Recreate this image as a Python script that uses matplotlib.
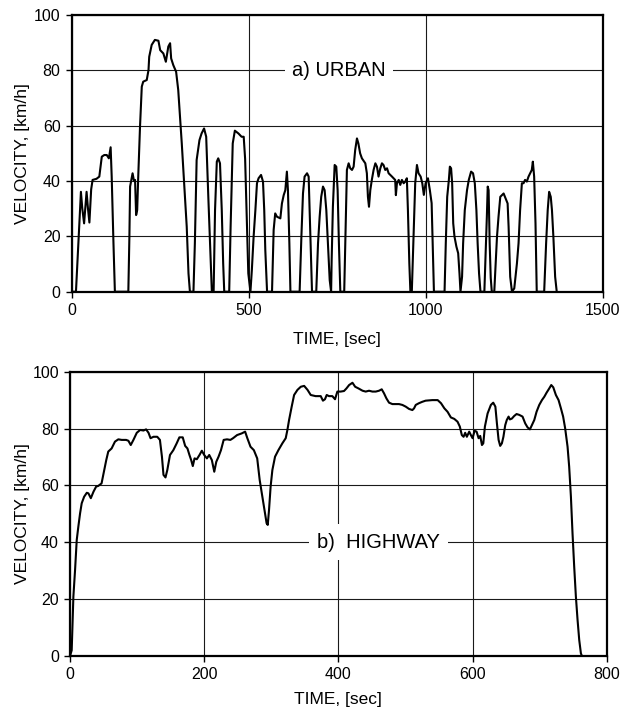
import numpy as np
import matplotlib
matplotlib.use('Agg')
import matplotlib.pyplot as plt

plt.rcParams['font.family'] = ['Liberation Sans', 'DejaVu Sans']

# 城市工况 (urban) 速度曲线
urban_time = [0, 12, 19, 23.5, 26, 30, 35, 42, 46, 50, 55, 59, 70, 78, 85, 92, 99, 105, 110, 113, 118, 122,
              160, 163, 165, 172, 176, 179, 182, 185, 188, 193, 198, 202, 212, 217, 219, 226, 235, 245, 250,
              259, 266, 273, 278, 281, 287, 295, 301, 311, 320, 325, 330, 334,
              344, 348, 353, 361, 367, 374, 380, 386, 391, 396,
              401, 405, 410, 414, 419, 424, 428, 431,
              445, 449, 455, 461, 471, 480, 486, 490, 494, 499, 505,
              509, 514, 519, 523.5, 528, 535, 540.5, 544, 547, 552,
              566, 570.6, 575, 580, 589.5, 594, 599, 603.6, 608, 611, 615, 618,
              644, 649, 653.5, 658, 665, 669.5, 674, 679,
              691, 696, 700.6, 705, 710, 714.7, 719.4, 724, 729, 733,
              734.5, 738, 743, 747.6, 751.4, 755, 759,
              770, 775, 777.6, 782.5, 787, 792, 796.6, 801, 806, 810, 815, 820, 829.6, 834, 837, 840, 843.7,
              848, 853, 858, 862.5, 867, 872, 876.6, 881, 886, 891, 895.5, 905, 914, 916, 919, 924, 928.4,
              933, 938, 942.5, 947, 950, 954, 957,
              961, 966, 970.6, 975.5, 980, 986, 990.6, 995, 1000, 1006.6, 1012, 1017, 1020.6, 1023.5,
              1053.5, 1057, 1061, 1065.7, 1068.5, 1072, 1075, 1078, 1081.6, 1087, 1092, 1095.7, 1098.5,
              1103, 1106, 1110.7, 1117, 1122, 1128.5, 1134, 1139, 1143.5, 1147, 1151, 1155,
              1166, 1170, 1173, 1175.5, 1178, 1181, 1184, 1187,
              1194, 1201.7, 1206, 1211, 1215.7, 1220.4, 1228, 1231.7, 1234.5, 1239, 1244,
              1250.5, 1258, 1262.6, 1267, 1272, 1276.7, 1281, 1286, 1290.8, 1295.5, 1300, 1303, 1306.7,
              1310.5, 1314,
              1335, 1340.5, 1345, 1349, 1353.6, 1357, 1361, 1366, 1370.5]
urban_speed = [0, 0, 17.5, 29.5, 36.1, 30, 24.7, 36.1, 30, 25, 37, 40.4, 40.8, 41.6, 48.8, 49.4, 49.4, 48.2, 52.2, 41.6, 17.5, 0,
               0, 19.9, 38, 42.8, 40, 40.4, 27.7, 29.5, 41.6, 59.6, 74.1, 75.9, 76.5, 80.1, 84.9, 89.2, 91, 90.7, 87.3,
               86.1, 83.1, 88.6, 89.8, 84.3, 81.9, 79.5, 72.9, 53.6, 34.3, 23.5, 6.6, 0,
               0, 17.5, 47.6, 54.8, 57.2, 59, 56, 34.3, 17.5, 0,
               0, 29.5, 47, 48.2, 46.4, 29.5, 10.2, 0,
               0, 23.5, 53.6, 58.2, 57.2, 56, 56, 48, 29.5, 6.6, 0,
               7.8, 19.9, 29.5, 39.2, 41, 42.2, 39.8, 29.5, 15.1, 0,
               0, 22.3, 28.3, 27.1, 26.5, 31.9, 34.9, 36.7, 43.4, 36.7, 17.5, 0,
               0, 19.9, 35.5, 41.6, 42.8, 41.6, 22.3, 0,
               0, 17.5, 27.1, 34.3, 38, 36.7, 29.5, 17.5, 4.2, 0,
               11.4, 30.7, 45.8, 45.2, 36.7, 17.5, 0,
               0, 29.5, 44, 46.4, 44.6, 44, 45.2, 51.2, 55.4, 53.6, 50, 48.2, 46.4, 42.8, 34.3, 30.7, 36.7,
               40.4, 44, 46.4, 45.2, 41.6, 44.6, 46.4, 45.8, 44, 44.6, 42.8, 41.6, 40.4, 34.9, 39.2, 40.4, 38.6,
               40.4, 39.2, 39.8, 41, 29.5, 10.2, 0,
               0, 19.9, 39.2, 45.8, 42.8, 41.6, 39.2, 35, 39.2, 41, 36.7, 32, 15, 0,
               0, 17.5, 34.3, 40.4, 45.2, 44.6, 39.2, 24.7, 19.9, 16.3, 13.9, 6.6, 0,
               5.4, 17.5, 29.5, 36.7, 40.4, 43.4, 42.8, 39.2, 29.5, 17.5, 6.6, 0,
               0, 15, 27, 38, 36.7, 17.5, 5, 0,
               0, 19.9, 27.1, 34.3, 34.9, 35.5, 33.1, 31.9, 23.5, 5.4, 0,
               1.2, 10.2, 17.5, 29.5, 39.2, 39.2, 40.4, 39.8, 41.6, 42.8, 44, 47, 41.6,
               24.7, 0,
               0, 17.5, 29.5, 36.1, 34.3, 29.5, 19.9, 5.4, 0]

# 高速工况 (highway) 速度曲线
highway_time = [0, 2.5, 5, 7.5, 10, 12.4, 15, 17.4, 21, 25, 27.4, 31, 35, 39, 42, 47, 50, 54, 57, 62, 67, 72,
                77, 83.6, 87, 90.5, 94.5, 99.5, 104.5, 109.5, 113.4, 117, 120, 124.4, 130, 134, 137, 139.3,
                142.3, 145, 149, 154, 159, 163, 168, 171.6, 175, 178, 180.6, 183, 185.6, 189, 193, 196.5,
                200, 204, 207.5, 211.4, 215, 218, 221.4, 225, 229, 234, 239, 243, 249, 256, 261, 264.3, 269,
                274, 279, 282.7, 286.7, 290.7, 293, 294.7, 296.6, 299, 301.6, 305.6, 310.6, 316.5, 321.5,
                324, 326.5, 330.4, 334, 339, 344, 349, 354, 358.8, 366, 373.7, 377, 380, 382.6, 386, 391,
                395, 398.5, 403.5, 408.4, 412, 416, 421, 425, 430, 436, 440.7, 445.7, 450.7, 455.7, 460.6,
                464.6, 468, 471.6, 475.5, 480.5, 485.5, 490.4, 495.4, 500.4, 505.3, 510.3, 512.8, 515.3,
                520, 525, 530, 540, 548, 553, 558, 562.7, 567.7, 572.7, 577.6, 581, 584, 586.6, 589, 591.5,
                595, 597.5, 600, 603, 606, 609, 611.4, 614, 616, 618.4, 622.4, 627.3, 630.8, 634, 636.3,
                638.8, 641.2, 643.7, 646, 648.7, 651, 653.7, 655.6, 658.6, 662, 665.6, 669.6, 674.5, 678.5,
                682, 685.5, 688.4, 692, 695.4, 699.4, 703.4, 707, 710.3, 714.3, 717.3, 720.3, 724.2, 728.2,
                731.7, 735, 738, 741.6, 744, 746.6, 749, 751.5, 754, 756.5, 759, 761.5, 763]
highway_speed = [0, 2, 20.9, 30.2, 40.8, 45.5, 50.2, 53.7, 56, 57.4, 57.2, 55.5, 57.8, 59.6, 59.8, 60.7, 64.2,
                 68.9, 71.9, 73, 75.4, 76.2, 76, 76, 75.7, 74.2, 76, 78.5, 79.5, 79.3, 79.7, 78.5, 76.6, 77.1,
                 77.1, 76, 70.1, 63.7, 62.8, 65.4, 70.7, 72.4, 74.8, 76.9, 76.9, 73.9, 73, 70.7, 68.9, 66.8,
                 69.5, 69.2, 70.7, 72.2, 70.7, 69.5, 70.7, 68.9, 64.8, 68.3, 70.1, 72.4, 76, 76.2, 76, 76.6,
                 77.7, 78.3, 78.9, 76.6, 73.6, 72.4, 69.5, 61.9, 56, 50.2, 46.7, 46.1, 51.3, 59.6, 65.4, 70.1,
                 72.4, 74.8, 76.6, 79.5, 83, 87.7, 91.8, 93.6, 94.7, 95, 93.6, 91.8, 91.4, 91.4, 89.8, 90.3,
                 91.8, 91.4, 91.4, 90.3, 93, 93, 93.2, 94.1, 95.3, 96.1, 94.7, 94.1, 93.3, 93, 93.3, 93, 93,
                 93.3, 93.8, 92.4, 90.6, 89.1, 88.6, 88.6, 88.6, 88.3, 87.7, 86.9, 86.5, 87.1, 88.3, 88.9,
                 89.4, 89.8, 90, 90, 88.9, 87.1, 85.9, 83.9, 83.4, 82.4, 80.7, 77.7, 77.1, 78.5, 77.1, 78.9,
                 77.7, 76.6, 79.2, 78.9, 76.6, 77.4, 74.2, 74.8, 80.7, 85.3, 88.3, 89.1, 87.7, 81.8, 76, 73.9,
                 74.8, 77.1, 81.2, 83, 84.2, 83.2, 83.5, 84.4, 85.1, 84.8, 84.2, 81.8, 80.4, 79.7, 81.2, 83,
                 85.9, 88.3, 90, 91.2, 92.6, 94.1, 95.3, 94.5, 91.8, 90, 87.1, 84.2, 80.1, 73.6, 66.6, 56,
                 43.1, 31.4, 20.9, 12.7, 5.6, 0.9, 0]

fig = plt.figure(figsize=(6.23, 7.21), dpi=100)
ax1 = fig.add_axes([0.1151, 0.5954, 0.8521, 0.3838])
ax2 = fig.add_axes([0.1124, 0.0902, 0.8615, 0.3943])


def style_axes(ax, xmax, xstep):
    ax.set_xlim(0, xmax)
    ax.set_ylim(0, 100)
    ax.set_xticks(np.arange(0, xmax + 1, xstep))
    ax.set_yticks(np.arange(0, 101, 20))
    ax.grid(True, color='0.1', linewidth=0.8)
    ax.set_axisbelow(True)
    for sp in ax.spines.values():
        sp.set_linewidth(1.6)
        sp.set_color('black')
    ax.tick_params(direction='out', length=4, width=1, labelsize=11.5, pad=4)
    ax.set_xlabel('TIME, [sec]', fontsize=12.5)
    ax.set_ylabel('VELOCITY, [km/h]', fontsize=12.5)


style_axes(ax1, 1500, 500)
ax1.plot(urban_time, urban_speed, color='black', linewidth=1.5)
ax1.text(755, 80, 'a) URBAN', fontsize=14.5, ha='center', va='center', zorder=5,
         bbox=dict(facecolor='white', edgecolor='none', pad=5))
ax1.xaxis.set_label_coords(0.5, -0.145)
ax1.yaxis.set_label_coords(-0.079, 0.5)

style_axes(ax2, 800, 200)
ax2.plot(highway_time, highway_speed, color='black', linewidth=1.5)
ax2.text(460, 40, 'b)  HIGHWAY', fontsize=14.5, ha='center', va='center', zorder=5,
         bbox=dict(facecolor='white', edgecolor='none', pad=6))
ax2.xaxis.set_label_coords(0.5, -0.125)
ax2.yaxis.set_label_coords(-0.075, 0.5)

plt.savefig('out.png', dpi=100)
